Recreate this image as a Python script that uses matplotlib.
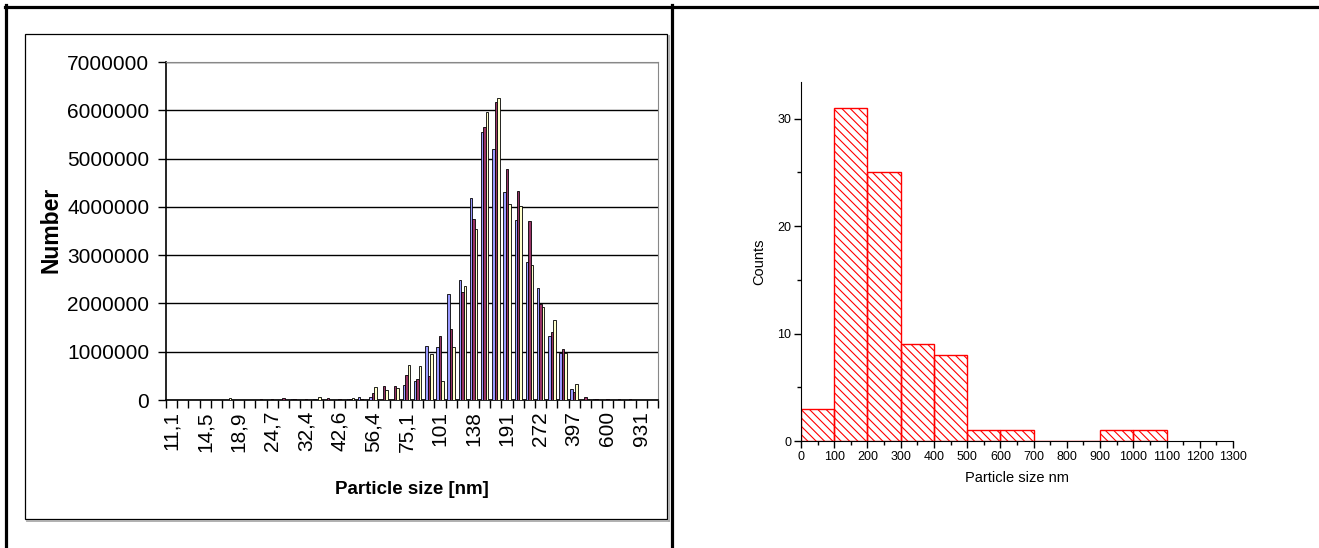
import numpy as np
import matplotlib
matplotlib.use('Agg')
import matplotlib.pyplot as plt
from matplotlib.lines import Line2D
from matplotlib.patches import Rectangle

plt.rcParams['font.family'] = ['Liberation Sans', 'DejaVu Sans']

# left chart: number distribution, 44 size classes, 3 measurements (values in millions)
size_labels = ['11,1', '14,5', '18,9', '24,7', '32,4', '42,6', '56,4', '75,1',
               '101', '138', '191', '272', '397', '600', '931']
n_classes = 44
run_a = [0, 0, 0, 0, 0, 0, 0, 0, 0, 0, 0, 0.015, 0, 0.02, 0, 0, 0.02, 0.07, 0.07, 0, 0,
         0.32, 0.39, 1.12, 1.10, 2.19, 2.48, 4.18, 5.54, 5.19, 4.30, 3.72, 2.85, 2.32,
         1.33, 0.97, 0.23, 0, 0.02, 0, 0, 0, 0, 0]
run_b = [0, 0, 0, 0, 0, 0, 0, 0, 0.015, 0.015, 0.04, 0.015, 0.015, 0, 0.04, 0.015, 0.02,
         0.03, 0.15, 0.30, 0.28, 0.52, 0.44, 0.50, 1.32, 1.47, 2.24, 3.74, 5.66, 6.18,
         4.78, 4.33, 3.70, 1.99, 1.40, 1.06, 0.17, 0.07, 0.02, 0.015, 0.015, 0.015, 0, 0]
run_c = [0, 0, 0, 0, 0, 0.05, 0, 0, 0, 0, 0, 0, 0, 0.07, 0.01, 0, 0.04, 0, 0.27, 0.20,
         0.25, 0.73, 0.70, 0.95, 0.39, 1.09, 2.37, 3.55, 5.97, 6.26, 4.06, 4.02, 2.80,
         1.93, 1.66, 0.97, 0.33, 0.02, 0, 0, 0, 0, 0, 0]

# right chart: histogram counts per 100 nm bin
bin_edges = [0, 100, 200, 300, 400, 500, 600, 700, 800, 900, 1000, 1100]
counts = [3, 31, 25, 9, 8, 1, 1, 0, 0, 1, 1]

W, H = 1319, 548
fig = plt.figure(figsize=(W / 100, H / 100), dpi=100)

def fx(px):
    return px / W

def fy(py):
    return 1 - py / H

# table-like outer lines
fig.add_artist(Line2D([fx(5), 1], [fy(6.5), fy(6.5)], color='black', lw=2.3))
fig.add_artist(Line2D([fx(6), fx(6)], [fy(5), 0], color='black', lw=2.3))
fig.add_artist(Line2D([fx(672), fx(672)], [fy(5), 0], color='black', lw=2.3))

# chart frame with shadow on bottom/right (left chart)
fig.add_artist(Line2D([fx(27), fx(668.5)], [fy(520.5), fy(520.5)], color='#aaaaaa', lw=1.3))
fig.add_artist(Line2D([fx(668.5), fx(668.5)], [fy(36), fy(520.5)], color='#aaaaaa', lw=1.3))
fig.add_artist(Rectangle((fx(25), fy(519)), fx(642), fy(34) - fy(519),
                         fill=False, edgecolor='black', lw=0.9))

# ---- left: clustered bars ----
ax = fig.add_axes([fx(166), fy(400), fx(658) - fx(166), fy(62) - fy(400)])
x = np.arange(n_classes) + 0.5
w = 1 / 4.5
colors = ['#9999FF', '#993366', '#FFFFCC']
for k, run in enumerate([run_a, run_b, run_c]):
    ax.bar(x + (k - 1) * w, np.array(run) * 1e6, width=w, color=colors[k],
           edgecolor='black', linewidth=0.6, zorder=3)

ax.set_xlim(0, n_classes)
ax.set_ylim(0, 7e6)
ax.set_yticks(np.arange(0, 7e6 + 1, 1e6))
ax.set_yticklabels([str(int(v)) for v in np.arange(0, 7e6 + 1, 1e6)], fontsize=15)
ax.yaxis.grid(True, color='black', lw=1)
ax.set_axisbelow(True)
ax.set_xticks(np.arange(0, n_classes + 1))
ax.set_xticklabels([])
ax.set_xticks(x[::3], minor=True)
ax.set_xticklabels(size_labels, minor=True, rotation=90, fontsize=15)
ax.tick_params(axis='x', which='major', direction='out', length=6, width=1)
ax.tick_params(axis='x', which='minor', length=0, pad=8)
ax.tick_params(axis='y', direction='out', length=6, width=1, pad=6)
for s in ['top', 'right']:
    ax.spines[s].set_color('#888888')
ax.spines['left'].set_linewidth(1.2)
ax.spines['bottom'].set_linewidth(1.2)
fig.text(fx(412), fy(490), 'Particle size [nm]', ha='center', va='center',
         fontsize=13.5, fontweight='bold')
fig.text(fx(51), fy(230), 'Number', ha='center', va='center', rotation=90,
         fontsize=16.5, fontweight='bold')

# ---- right: hatched histogram ----
plt.rcParams['hatch.linewidth'] = 0.8
ax2 = fig.add_axes([fx(801), fy(441), fx(1233) - fx(801), fy(82) - fy(441)])
ax2.bar(bin_edges[:-1], counts, width=np.diff(bin_edges), align='edge',
        fill=False, edgecolor='red', hatch='\\\\\\\\', linewidth=1)
ax2.set_xlim(0, 1300)
ax2.set_ylim(0, 33.4)
ax2.set_xticks(np.arange(0, 1301, 100))
ax2.set_xticks(np.arange(50, 1300, 100), minor=True)
ax2.set_yticks([0, 10, 20, 30])
ax2.set_yticks([5, 15, 25], minor=True)
ax2.tick_params(which='major', direction='out', length=5, width=1, labelsize=9, pad=2)
ax2.tick_params(which='minor', direction='out', length=3, width=1)
ax2.spines['top'].set_visible(False)
ax2.spines['right'].set_visible(False)
ax2.set_xlabel('Particle size nm', fontsize=10.5, labelpad=6)
ax2.set_ylabel('Counts', fontsize=10.5, labelpad=8)

fig.savefig('out.png', dpi=100)
